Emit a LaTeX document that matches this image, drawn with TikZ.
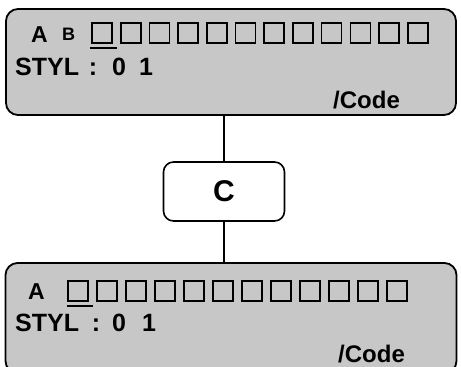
\documentclass[tikz,border=0pt]{standalone}
\usepackage{fontspec}
\setmainfont{Liberation Sans}
\begin{document}
\begin{tikzpicture}[x=1pt,y=-1pt,
  panel/.style={draw=black, line width=1.8pt, rounded corners=12pt, fill=black!22, inner sep=0pt},
  cbox/.style={draw=black, line width=1.6pt, rounded corners=10pt, fill=white, inner sep=0pt,
    font=\fontsize{30}{30}\selectfont\bfseries},
  conn/.style={draw=black, line width=1.4pt},
  sq/.style={draw=black, line width=1.6pt},
  uline/.style={draw=black, line width=2pt},
  letter/.style={anchor=base west, inner sep=0pt, font=\fontsize{23}{23}\selectfont\bfseries},
  txt/.style={anchor=base west, inner sep=0pt, font=\fontsize{25}{25}\selectfont\bfseries},
  smalltxt/.style={anchor=base west, inner sep=0pt, font=\fontsize{18}{18}\selectfont\bfseries},
  codetxt/.style={anchor=base west, inner sep=0pt, font=\fontsize{24}{24}\selectfont\bfseries}
]
\clip (0,0) rectangle (461,367);
\useasboundingbox (0,0) rectangle (461,367);

% top panel
\node[panel, minimum width=450pt, minimum height=106pt] (top) at (231,62) {};
\node[letter] (tA) at (31,42) {A};
\node[smalltxt] (tB) at (62,40) {B};
\foreach \i in {0,...,11} {
  \draw[sq] ({92+28.7*\i},23) rectangle ({112+28.7*\i},43);
}
\draw[uline] (90,48) -- (117,48);
\node[txt] (tS) at (15,75) {STYL};
\node[txt, anchor=base] (tC) at (93,75) {:};
\node[txt] (t0) at (112,75) {0};
\node[txt] (t1) at (139,75) {1};
\node[codetxt] (tcode) at (333,108) {/Code};

% middle box
\node[cbox, minimum width=121pt, minimum height=59pt] (C) at (224,191.5) {C};

% bottom panel
\node[panel, minimum width=451pt, minimum height=110pt] (bot) at (231,318) {};
\node[letter] (bA) at (28,299) {A};
\foreach \i in {0,...,11} {
  \draw[sq] ({68+29*\i},281) rectangle ({88+29*\i},301);
}
\draw[uline] (67,306) -- (93,306);
\node[txt] (bS) at (15,331) {STYL};
\node[txt, anchor=base] (bC) at (96,331) {:};
\node[txt] (b0) at (112,331) {0};
\node[txt] (b1) at (142,331) {1};
\node[codetxt] (bcode) at (338,362) {/Code};

% connectors
\draw[conn] (C.north) -- (C.north |- top.south);
\draw[conn] (C.south) -- (C.south |- bot.north);
\end{tikzpicture}
\end{document}
